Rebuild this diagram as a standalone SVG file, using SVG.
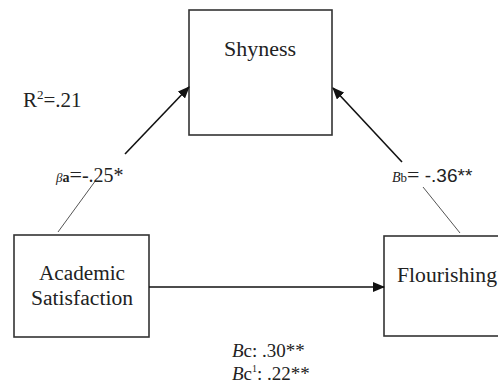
<svg xmlns="http://www.w3.org/2000/svg" width="498" height="385" viewBox="0 0 498 385">
<defs>
<style>
.box{fill:#fff;stroke:#333;stroke-width:1.6}
.t{font-family:"Liberation Serif","Times New Roman",serif;fill:#222}
.s{font-family:"Liberation Sans",Arial,sans-serif;fill:#222}
.ln{stroke:#111;stroke-width:1.6;fill:none}
.thin{stroke:#555;stroke-width:1;fill:none}
</style>
<marker id="ah" markerWidth="12" markerHeight="10" refX="11" refY="5" orient="auto" markerUnits="userSpaceOnUse">
<path d="M0,0 L12,5 L0,10 Z" fill="#111"/>
</marker>
</defs>
<rect width="498" height="385" fill="#fff"/>
<g id="shyness">
<rect class="box" x="189" y="10" width="143" height="125"/>
<text class="t" x="260" y="56" font-size="20" text-anchor="middle" textLength="72" lengthAdjust="spacingAndGlyphs">Shyness</text>
</g>
<g id="academic">
<rect class="box" x="14" y="235" width="135" height="102"/>
<text class="t" x="82" y="280" font-size="20" text-anchor="middle" textLength="86" lengthAdjust="spacingAndGlyphs">Academic</text>
<text class="t" x="82" y="305" font-size="20" text-anchor="middle" textLength="102" lengthAdjust="spacingAndGlyphs">Satisfaction</text>
</g>
<g id="flourishing">
<rect class="box" x="384" y="236" width="120" height="100"/>
<text class="t" x="397" y="282" font-size="20" textLength="100" lengthAdjust="spacingAndGlyphs">Flourishing</text>
</g>
<g id="connectors">
<line class="ln" x1="125" y1="154" x2="189" y2="87" marker-end="url(#ah)"/>
<line class="thin" x1="96" y1="180" x2="58" y2="232"/>
<line class="ln" x1="402" y1="162" x2="333" y2="88" marker-end="url(#ah)"/>
<line class="thin" x1="423" y1="187" x2="460" y2="233"/>
<line class="ln" x1="149" y1="287" x2="384" y2="287" marker-end="url(#ah)"/>
</g>
<g id="labels">
<text class="t" x="23" y="107" font-size="21">R<tspan font-size="13" dy="-8">2</tspan><tspan dy="8">=.21</tspan></text>
<text class="t" x="56" y="182" font-size="20"><tspan font-size="13" font-style="italic">β</tspan><tspan font-size="14" font-weight="bold">a</tspan><tspan font-size="22">=</tspan>-.25*</text>
<text class="t" x="392" y="182" font-size="20"><tspan font-size="14" font-style="italic">B</tspan><tspan font-size="13">b</tspan><tspan font-size="22">=</tspan><tspan class="s" font-size="19"> -.36**</tspan></text>
<text class="t" x="232" y="357" font-size="19"><tspan font-style="italic">B</tspan>c: .30**</text>
<text class="t" x="232" y="380" font-size="19"><tspan font-style="italic">B</tspan>c<tspan font-size="10" dy="-8">1</tspan><tspan dy="8">: .22**</tspan></text>
</g>
</svg>
